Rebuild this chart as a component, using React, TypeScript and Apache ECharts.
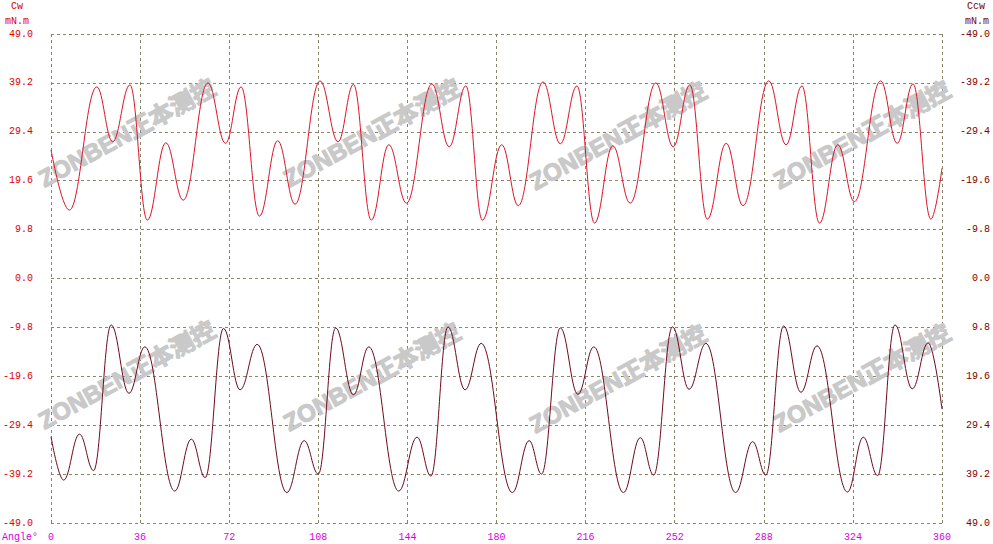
import React, { useEffect, useRef } from "react";
import * as echarts from "echarts";

// Cw (upper, red) — angle in degrees, torque in mN.m
const cwAngles = [
  0, 7.4, 18.5, 24.9, 31.9, 38.9, 46.4, 53.4, 63.4, 70.5, 76.8, 84.2, 91.6, 98.6,
  108.7, 116.0, 122.2, 129.4, 136.5, 143.6, 153.9, 160.9, 167.6, 174.3, 182.1, 188.8,
  198.8, 205.8, 212.5, 219.6, 227.0, 234.0, 244.4, 251.4, 258.1, 265.2, 272.8, 279.6,
  290.0, 297.0, 303.4, 310.5, 317.9, 324.6, 335.2, 341.9, 348.3, 355.5, 360,
];
const cwValues = [
  25.8, 13.7, 38.4, 27.4, 38.8, 11.7, 27.2, 15.7, 39.2, 27.1, 38.4, 12.5, 27.6, 14.9,
  39.6, 27.4, 38.9, 11.7, 26.8, 15.1, 39.0, 26.4, 38.6, 11.7, 26.8, 14.6,
  39.4, 27.0, 38.6, 11.1, 26.6, 15.1, 39.2, 26.4, 38.8, 11.9, 27.1, 14.6,
  39.6, 26.8, 38.6, 11.1, 26.8, 15.4, 39.6, 27.1, 39.0, 11.9, 22.1,
];

// Ccw (lower, dark red)
const ccwAngles = [
  0, 5.1, 11.5, 17.2, 24.3, 31.5, 37.9, 50.0, 56.7, 62.3, 69.7, 76.4, 83.3, 95.3,
  102.3, 108.0, 115.0, 122.2, 128.4, 140.5, 147.9, 153.5, 160.4, 167.3, 173.8, 186.4,
  193.2, 198.2, 205.8, 212.9, 219.3, 231.3, 238.1, 243.5, 251.1, 257.8, 264.6, 276.6,
  283.5, 288.8, 296.0, 303.0, 309.5, 321.8, 328.2, 334.0, 341.0, 348.0, 354.4, 360,
];
const ccwValues = [
  -31.7, -40.4, -31.2, -38.5, -9.3, -23.0, -13.7, -42.6, -32.2, -39.9, -10.0, -22.3, -13.2, -42.9,
  -32.5, -39.2, -9.9, -23.3, -13.7, -42.6, -31.8, -39.6, -9.7, -22.3, -13.0, -42.9,
  -32.5, -39.2, -9.9, -23.2, -13.7, -42.9, -31.9, -39.4, -9.7, -22.2, -13.0, -42.9,
  -32.7, -39.4, -9.5, -22.8, -13.5, -42.8, -31.8, -39.5, -9.3, -22.1, -12.9, -26.2,
];

const xMin = 0;
const xMax = 360;
const xStep = 36;
const yMin = -49;
const yMax = 49;
const yStep = 9.8;

const leftTitle = ["Cw", "mN.m"];
const rightTitle = ["Ccw", "mN.m"];
const xTitle = "Angle°";
const watermarkText = "ZONBEN正本测控";

const MONO = '"Liberation Mono", "DejaVu Sans Mono", monospace';

function fmt(v: number): string {
  if (Math.abs(v) < 1e-6) return "0.0";
  return v.toFixed(1);
}

export default function App() {
  const ref = useRef<HTMLDivElement>(null);

  useEffect(() => {
    if (!ref.current) return;
    const chart = echarts.init(ref.current, undefined, { renderer: "svg" });

    const gridColor = "#8a8468";
    const wmCenters = [
      [127, 133], [372, 133], [618, 136], [862, 135],
      [127, 375], [372, 377], [618, 379], [862, 378],
    ];

    const graphics: any[] = wmCenters.map(([x, y]) => ({
      type: "text",
      x,
      y,
      rotation: 0.5,
      z: 1,
      silent: true,
      style: {
        text: watermarkText,
        fill: "#c9c9c9",
        stroke: "#c9c9c9",
        lineWidth: 1.2,
        font: 'bold 24px "Liberation Sans", "Noto Sans CJK SC", sans-serif',
        align: "center",
        verticalAlign: "middle",
      },
    }));

    graphics.push(
      {
        type: "text", x: 17, y: 6, z: 5,
        style: { text: leftTitle[0], fill: "#e00000", font: `10px ${MONO}`, align: "center", verticalAlign: "middle" },
      },
      {
        type: "text", x: 17, y: 21, z: 5,
        style: { text: leftTitle[1], fill: "#e00000", font: `10px ${MONO}`, align: "center", verticalAlign: "middle" },
      },
      {
        type: "text", x: 976, y: 6, z: 5,
        style: { text: rightTitle[0], fill: "#800000", font: `10px ${MONO}`, align: "center", verticalAlign: "middle" },
      },
      {
        type: "text", x: 977, y: 21, z: 5,
        style: { text: rightTitle[1], fill: "#800000", font: `10px ${MONO}`, align: "center", verticalAlign: "middle" },
      },
      {
        type: "text", x: 2, y: 537, z: 5,
        style: { text: xTitle, fill: "#dd00dd", font: `10px ${MONO}`, align: "left", verticalAlign: "middle" },
      }
    );

    chart.setOption({
      animation: false,
      backgroundColor: "#ffffff",
      grid: { left: 49, right: 49, top: 34, bottom: 21, containLabel: false },
      xAxis: {
        type: "value",
        min: xMin,
        max: xMax,
        interval: xStep,
        axisLine: { show: false },
        axisTick: { show: false },
        axisLabel: { color: "#dd00dd", fontSize: 10, fontFamily: MONO, margin: 9 },
        splitLine: { show: true, lineStyle: { color: gridColor, type: [3, 3], width: 1 } },
      },
      yAxis: [
        {
          type: "value",
          position: "left",
          min: yMin,
          max: yMax,
          interval: yStep,
          axisLine: { show: false },
          axisTick: { show: false },
          axisLabel: { color: "#e00000", fontSize: 10, fontFamily: MONO, margin: 18, formatter: (v: number) => fmt(v) },
          splitLine: { show: true, lineStyle: { color: gridColor, type: [3, 3], width: 1 } },
        },
        {
          type: "value",
          position: "right",
          inverse: true,
          min: yMin,
          max: yMax,
          interval: yStep,
          axisLine: { show: false },
          axisTick: { show: false },
          axisLabel: { color: "#800000", fontSize: 10, fontFamily: MONO, margin: 48, align: "right", formatter: (v: number) => fmt(v) },
          splitLine: { show: false },
        },
      ],
      graphic: graphics,
      series: [
        {
          type: "line",
          name: "Cw",
          yAxisIndex: 0,
          data: cwAngles.map((a, i) => [a, cwValues[i]]),
          showSymbol: false,
          smooth: 0.4,
          smoothMonotone: "x",
          lineStyle: { color: "#dc1428", width: 1 },
          z: 3,
        },
        {
          type: "line",
          name: "Ccw",
          yAxisIndex: 0,
          data: ccwAngles.map((a, i) => [a, ccwValues[i]]),
          showSymbol: false,
          smooth: 0.4,
          smoothMonotone: "x",
          lineStyle: { color: "#6e0a1e", width: 1 },
          z: 3,
        },
      ],
    });

    return () => chart.dispose();
  }, []);

  return (
    <div
      ref={ref}
      style={{ position: "fixed", left: 0, top: 0, width: 993, height: 544, background: "#fff" }}
    />
  );
}
